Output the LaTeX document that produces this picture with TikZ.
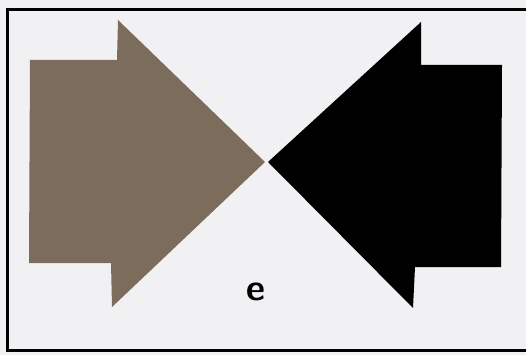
\documentclass[tikz,border=0pt]{standalone}
\usepackage{xcolor}
\definecolor{paper}{RGB}{241,241,243}
\definecolor{mud}{RGB}{124,108,92}

\begin{document}
\begin{tikzpicture}[x=1pt, y=-1pt,
  frame/.style={draw=black, line width=3pt},
  pointer/.style={draw=none},
  lbl/.style={font=\fontsize{37}{40}\selectfont\sffamily\bfseries, inner sep=0pt}]
\fill[paper] (0,0) rectangle (526,355);
\useasboundingbox (0,0) rectangle (526,355);
\draw[frame] (526,10) -- (7,10) -- (7,350) -- (526,350);
% arrow from the left
\fill[pointer, fill=mud] (30,60) -- (117,60) -- (118,20) -- (265,162)
  -- (112,307) -- (111,263) -- (29,263) -- cycle;
% arrow from the right
\fill[pointer, fill=black] (502,65) -- (421,65) -- (421,22) -- (268,162)
  -- (413,308) -- (415,267) -- (501,267) -- cycle;
\node[lbl] (e) at (256,292) {e};
\end{tikzpicture}
\end{document}
